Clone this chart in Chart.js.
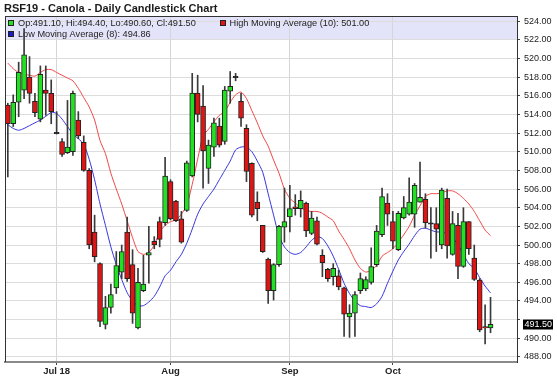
<!DOCTYPE html>
<html><head><meta charset="utf-8">
<script src="https://cdn.jsdelivr.net/npm/chart.js@4.4.1/dist/chart.umd.min.js"></script>
<style>html,body{margin:0;padding:0;background:#fff;overflow:hidden}#wrap{width:557px;height:381px}</style>
</head><body><div id="wrap"><canvas id="c" width="557" height="381"></canvas></div>
<script>
const chartTitle = 'RSF19 - Canola - Daily Candlestick Chart';
const dates = [
 '2018-06-19','2018-06-20','2018-06-21','2018-06-22','2018-06-25','2018-06-26','2018-06-27','2018-06-28','2018-06-29',
 '2018-07-03','2018-07-04','2018-07-05','2018-07-06','2018-07-09','2018-07-10','2018-07-11','2018-07-12','2018-07-13','2018-07-16','2018-07-17','2018-07-18','2018-07-19','2018-07-20','2018-07-23','2018-07-24','2018-07-25','2018-07-26','2018-07-27','2018-07-30','2018-07-31',
 '2018-08-01','2018-08-02','2018-08-03','2018-08-07','2018-08-08','2018-08-09','2018-08-10','2018-08-13','2018-08-14','2018-08-15','2018-08-16','2018-08-17','2018-08-20','2018-08-21','2018-08-22','2018-08-23','2018-08-24','2018-08-27','2018-08-28','2018-08-29','2018-08-30','2018-08-31',
 '2018-09-04','2018-09-05','2018-09-06','2018-09-07','2018-09-10','2018-09-11','2018-09-12','2018-09-13','2018-09-14','2018-09-17','2018-09-18','2018-09-19','2018-09-20','2018-09-21','2018-09-24','2018-09-25','2018-09-26','2018-09-27','2018-09-28',
 '2018-10-01','2018-10-02','2018-10-03','2018-10-04','2018-10-05','2018-10-09','2018-10-10','2018-10-11','2018-10-12','2018-10-15','2018-10-16','2018-10-17','2018-10-18','2018-10-19','2018-10-22','2018-10-23','2018-10-24','2018-10-25','2018-10-26'
];
const opens = [515.0,513.0,515.3,516.6,518.0,515.4,513.5,516.6,516.25,512.0,
 511.1,509.9,510.0,513.4,511.0,508.0,501.4,498.0,491.5,493.3,
 495.4,497.1,501.4,497.9,491.1,495.1,498.9,500.4,502.5,502.4,
 506.8,504.7,502.8,503.7,507.4,516.3,514.9,508.2,510.5,512.75,
 511.1,516.5,518.0,515.4,512.5,508.75,504.6,502.1,498.5,495.1,
 497.9,501.9,503.0,504.1,503.9,504.5,501.25,502.6,498.9,497.4,
 496.6,496.7,495.4,492.3,492.7,495.1,495.3,496.0,497.9,501.1,
 504.5,502.5,499.5,502.9,503.3,503.3,504.6,504.9,502.3,502.3,
 500.0,505.0,499.0,502.1,497.7,502.5,498.6,496.25,491.25,491.1];
const highs = [515.2,516.1,519.6,523.2,520.2,516.25,519.2,519.2,517.7,514.3,
 511.4,515.5,516.5,514.3,511.7,508.2,503.2,498.1,494.5,495.8,
 499.3,500.0,503.0,499.5,497.5,498.9,502.0,500.9,503.0,509.4,
 507.0,504.8,503.6,509.0,518.4,518.2,517.1,511.25,513.6,513.6,
 517.0,518.6,518.4,516.25,512.9,508.8,505.7,502.1,498.6,498.0,
 502.1,506.1,506.4,505.4,505.8,504.6,503.6,503.0,499.5,497.5,
 498.0,497.3,495.5,493.6,495.0,497.0,496.6,499.7,502.1,506.1,
 505.5,503.6,503.6,505.2,507.2,506.6,508.9,505.5,504.0,504.0,
 506.1,506.0,503.6,503.4,504.0,502.5,500.0,496.4,493.6,494.4];
const lows = [507.3,512.7,513.75,515.7,515.2,513.75,513.2,513.9,513.0,511.9,
 509.5,509.8,509.6,511.4,507.9,499.6,498.2,491.25,491.0,492.7,
 494.8,496.4,496.1,491.6,491.0,495.0,495.9,499.6,499.8,502.1,
 502.7,502.5,500.2,503.6,507.3,513.2,506.1,506.6,509.5,510.5,
 510.8,515.2,517.6,512.7,506.8,503.0,502.6,499.2,493.75,494.1,
 497.7,500.3,501.4,503.2,503.0,500.9,501.1,500.0,496.6,496.1,
 495.7,495.2,490.2,490.1,490.2,494.8,495.1,495.8,497.7,500.9,
 502.1,499.6,499.4,502.8,503.2,501.9,504.6,501.8,498.6,499.3,
 499.6,498.6,498.9,496.4,497.6,499.0,496.2,490.7,489.4,490.6];
const closes = [513.0,515.3,518.5,520.4,516.25,514.2,518.3,516.25,514.3,512.0,
 509.7,510.5,516.25,511.7,508.0,500.0,498.75,491.8,493.3,494.7,
 497.8,499.3,496.4,492.7,496.0,495.8,499.2,500.0,500.6,507.4,
 502.8,502.6,500.3,508.8,516.3,514.0,510.1,510.7,513.1,510.7,
 516.6,517.0,518.0,513.6,507.9,503.2,503.9,499.3,495.1,497.9,
 502.0,502.5,503.9,503.9,504.8,501.5,502.9,500.1,498.1,496.4,
 497.5,495.5,492.6,492.7,494.7,496.4,496.3,497.7,501.5,505.2,
 503.3,500.4,503.4,504.0,504.6,506.4,505.1,502.4,502.3,501.7,
 505.9,499.9,502.3,497.7,502.5,499.6,496.3,490.9,491.1,491.5];
const highMA10 = [519.5,518.9,518.5,518.3,518.2,518.1,518.5,518.8,518.8,518.5,
 518.2,517.9,517.6,516.8,515.8,514.8,513.4,511.2,509.8,507.7,
 506.0,504.4,502.6,500.8,499.3,499.0,499.2,500.0,501.4,502.1,
 502.5,502.7,503.3,504.3,506.5,509.2,511.7,512.4,513.2,513.9,
 514.3,515.3,516.1,516.4,515.7,514.4,513.1,511.7,510.6,509.1,
 507.7,506.0,505.0,504.5,504.0,503.7,503.6,503.6,503.4,503.0,
 502.6,501.5,500.6,499.6,498.4,497.5,497.1,497.3,497.8,498.8,
 499.2,499.6,500.3,501.1,502.0,503.2,504.2,505.2,505.5,505.5,
 505.6,505.8,505.8,505.5,505.0,504.4,503.6,502.6,501.6,501.0];
const lowMA8 = [512.9,512.5,512.3,512.5,512.8,513.1,513.4,513.8,514.2,514.1,
 513.5,512.7,511.9,511.4,510.8,509.2,507.0,504.4,502.1,499.8,
 497.9,496.3,494.9,494.0,493.5,493.5,493.9,494.5,495.5,496.7,
 497.3,498.2,499.0,500.2,501.7,503.3,504.4,505.2,506.0,507.0,
 508.0,509.0,510.2,510.5,510.5,510.0,509.0,507.8,505.5,503.2,
 501.0,499.8,499.2,499.0,499.2,499.8,500.5,500.9,500.7,499.9,
 498.8,497.4,495.9,494.8,494.0,493.5,493.4,493.3,493.7,494.5,
 495.9,497.2,498.4,499.3,500.1,501.0,501.7,501.8,501.6,501.4,
 501.4,501.2,500.8,500.0,499.0,498.0,497.5,496.5,495.6,494.86];
const monthTickIdx = [9, 30, 52, 71];
const monthTickLabels = ['Jul 18', 'Aug', 'Sep', 'Oct'];
const yTicks = [488,490,492,494,496,498,500,502,504,506,508,510,512,514,516,518,520,522,524];

const X_MIN = -0.52, X_MAX = 93.88, Y_MIN = 487.46, Y_MAX = 524.55;
const GREEN = '#22e022', RED = '#dd1515', DOJI = '#222222';
const FONT = 'Arial, "Liberation Sans", sans-serif';
const last = closes.length - 1;

const bodyData = opens.map((o, i) => {
  const c = closes[i];
  return { x: i, y: o === c ? [o - 0.07, o + 0.07] : [o, c] };
});
const bodyColors = opens.map((o, i) => closes[i] > o ? GREEN : (closes[i] < o ? RED : DOJI));
const wickData = highs.map((h, i) => ({ x: i, y: [lows[i], h] }));

const deco = {
  id: 'deco',
  beforeDraw(chart) {
    const { ctx, chartArea: a } = chart;
    ctx.save();
    ctx.fillStyle = '#ffffff';
    ctx.fillRect(0, 0, chart.width, chart.height);
    ctx.fillStyle = '#e3e3f9';
    ctx.fillRect(a.left, a.top, a.right - a.left, 23);
    ctx.fillStyle = '#1a1a1a';
    ctx.font = 'bold 11px ' + FONT;
    ctx.textBaseline = 'middle';
    ctx.fillText(chartTitle, 4, 9);
    ctx.restore();
  },
  beforeDatasetsDraw(chart) {
    const { ctx } = chart;
    ctx.save();
    const sq = (x, y, col) => {
      ctx.fillStyle = col; ctx.fillRect(x, y, 6, 6);
      ctx.strokeStyle = '#222'; ctx.lineWidth = 1; ctx.strokeRect(x + 0.5, y + 0.5, 5, 5);
    };
    ctx.font = '9.2px ' + FONT;
    ctx.textBaseline = 'middle';
    sq(8, 20, GREEN);
    ctx.fillStyle = '#222';
    ctx.fillText(`Op:${opens[last].toFixed(2)}, Hi:${highs[last].toFixed(2)}, Lo:${lows[last].toFixed(2)}, Cl:${closes[last].toFixed(2)}`, 18, 23.5);
    sq(220, 20, RED);
    ctx.fillStyle = '#222';
    ctx.fillText(`High Moving Average (10): ${highMA10[last].toFixed(2)}`, 229.5, 23.5);
    sq(8, 31, '#1a1acc');
    ctx.fillStyle = '#222';
    ctx.fillText(`Low Moving Average (8): ${lowMA8[last].toFixed(2)}`, 18, 34.5);
    ctx.restore();
  },
  afterDraw(chart) {
    const { ctx, chartArea: a, scales } = chart;
    ctx.save();
    ctx.strokeStyle = '#333';
    ctx.lineWidth = 1;
    ctx.beginPath();
    ctx.moveTo(a.left + 0.5, a.top); ctx.lineTo(a.left + 0.5, a.bottom);
    ctx.moveTo(a.left, a.top + 0.5); ctx.lineTo(a.right, a.top + 0.5);
    ctx.stroke();
    const y = scales.y.getPixelForValue(closes[last]);
    ctx.fillStyle = '#000';
    ctx.fillRect(523, Math.round(y) - 4.5, 30, 10);
    ctx.fillStyle = '#fff';
    ctx.font = '9px ' + FONT;
    ctx.textBaseline = 'middle';
    ctx.fillText(closes[last].toFixed(2), 524.5, Math.round(y) + 0.5);
    ctx.restore();
  }
};

new Chart(document.getElementById('c'), {
  data: {
    datasets: [
      { type: 'line', label: 'High Moving Average (10)', data: highMA10.map((v, i) => ({ x: i, y: v })),
        borderColor: '#f04848', borderWidth: 1, pointRadius: 0, tension: 0.25, order: 4 },
      { type: 'line', label: 'Low Moving Average (8)', data: lowMA8.map((v, i) => ({ x: i, y: v })),
        borderColor: '#3636e0', borderWidth: 1, pointRadius: 0, tension: 0.25, order: 3 },
      { type: 'bar', label: 'wick', data: wickData, backgroundColor: '#3a3a3a', borderWidth: 0,
        barThickness: 1, grouped: false, order: 2 },
      { type: 'bar', label: 'body', data: bodyData, backgroundColor: bodyColors, borderColor: '#222',
        borderWidth: 1, borderSkipped: false, barThickness: 5, grouped: false, order: 1 }
    ]
  },
  options: {
    responsive: false,
    animation: false,
    devicePixelRatio: 1,
    layout: { padding: { top: 16, left: 5, right: 0, bottom: 0 } },
    plugins: { legend: { display: false }, tooltip: { enabled: false }, title: { display: false } },
    scales: {
      x: {
        type: 'linear', min: X_MIN, max: X_MAX, offset: false,
        afterBuildTicks: s => { s.ticks = monthTickIdx.map(v => ({ value: v })); },
        afterFit: s => { s.height = 19; },
        ticks: {
          autoSkip: false, maxRotation: 0, padding: 1, color: '#222',
          font: { family: FONT, size: 9.5, weight: 'bold' },
          callback: v => { const k = monthTickIdx.indexOf(v); return k >= 0 ? monthTickLabels[k] : ''; }
        },
        grid: { offset: false, color: '#d6d6d6', lineWidth: 1, tickColor: '#444', tickLength: 3 },
        border: { color: '#8a8a8a', width: 2 }
      },
      y: {
        position: 'right', min: Y_MIN, max: Y_MAX,
        afterBuildTicks: s => { s.ticks = yTicks.map(v => ({ value: v })); },
        afterFit: s => { s.width = 40; },
        ticks: {
          padding: 4, color: '#222', font: { family: FONT, size: 9 },
          callback: v => Math.abs(v - closes[last]) < 1 ? '' : Number(v).toFixed(2)
        },
        grid: { offset: false, color: '#dcdcdc', lineWidth: 1, tickColor: '#444', tickLength: 3 },
        border: { color: '#333', width: 1 }
      }
    }
  },
  plugins: [deco]
});
</script></body></html>
